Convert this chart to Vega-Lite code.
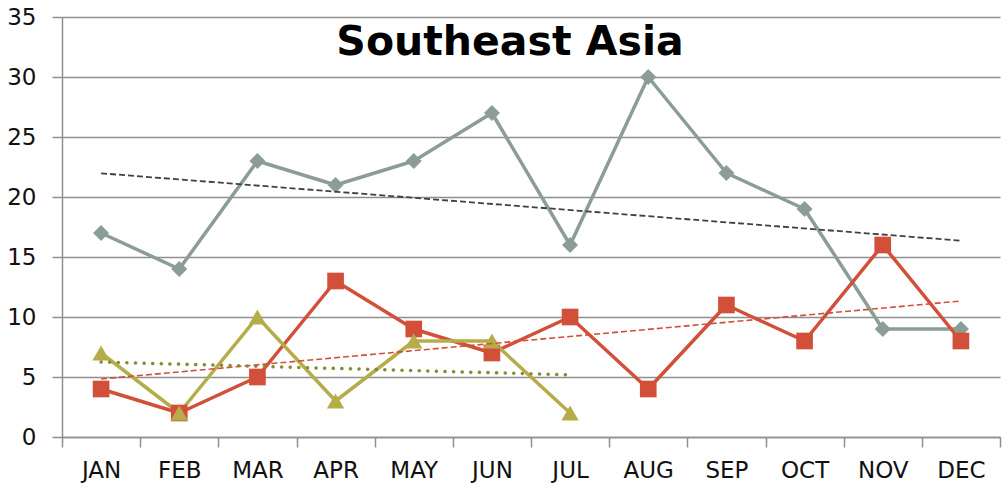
{
  "$schema": "https://vega.github.io/schema/vega-lite/v6.json",
  "autosize": "none",
  "width": 938,
  "height": 420,
  "padding": {"left": 62, "top": 17, "right": 2, "bottom": 52},
  "background": "white",
  "config": {"view": {"stroke": null}, "font": "DejaVu Sans"},
  "title": {"text": "Southeast Asia", "fontSize": 41, "fontWeight": "bold", "font": "DejaVu Sans", "color": "black", "anchor": "middle", "offset": 0, "dy": 58, "dx": -21},
  "datasets": {
    "pts": [
      {"month": "JAN", "m": 1, "series": "A", "value": 17},
      {"month": "FEB", "m": 2, "series": "A", "value": 14},
      {"month": "MAR", "m": 3, "series": "A", "value": 23},
      {"month": "APR", "m": 4, "series": "A", "value": 21},
      {"month": "MAY", "m": 5, "series": "A", "value": 23},
      {"month": "JUN", "m": 6, "series": "A", "value": 27},
      {"month": "JUL", "m": 7, "series": "A", "value": 16},
      {"month": "AUG", "m": 8, "series": "A", "value": 30},
      {"month": "SEP", "m": 9, "series": "A", "value": 22},
      {"month": "OCT", "m": 10, "series": "A", "value": 19},
      {"month": "NOV", "m": 11, "series": "A", "value": 9},
      {"month": "DEC", "m": 12, "series": "A", "value": 9},
      {"month": "JAN", "m": 1, "series": "B", "value": 4},
      {"month": "FEB", "m": 2, "series": "B", "value": 2},
      {"month": "MAR", "m": 3, "series": "B", "value": 5},
      {"month": "APR", "m": 4, "series": "B", "value": 13},
      {"month": "MAY", "m": 5, "series": "B", "value": 9},
      {"month": "JUN", "m": 6, "series": "B", "value": 7},
      {"month": "JUL", "m": 7, "series": "B", "value": 10},
      {"month": "AUG", "m": 8, "series": "B", "value": 4},
      {"month": "SEP", "m": 9, "series": "B", "value": 11},
      {"month": "OCT", "m": 10, "series": "B", "value": 8},
      {"month": "NOV", "m": 11, "series": "B", "value": 16},
      {"month": "DEC", "m": 12, "series": "B", "value": 8},
      {"month": "JAN", "m": 1, "series": "C", "value": 7},
      {"month": "FEB", "m": 2, "series": "C", "value": 2},
      {"month": "MAR", "m": 3, "series": "C", "value": 10},
      {"month": "APR", "m": 4, "series": "C", "value": 3},
      {"month": "MAY", "m": 5, "series": "C", "value": 8},
      {"month": "JUN", "m": 6, "series": "C", "value": 8},
      {"month": "JUL", "m": 7, "series": "C", "value": 2}
    ],
    "months": [
      {"m": 1, "month": "JAN"}, {"m": 2, "month": "FEB"}, {"m": 3, "month": "MAR"},
      {"m": 4, "month": "APR"}, {"m": 5, "month": "MAY"}, {"m": 6, "month": "JUN"},
      {"m": 7, "month": "JUL"}, {"m": 8, "month": "AUG"}, {"m": 9, "month": "SEP"},
      {"m": 10, "month": "OCT"}, {"m": 11, "month": "NOV"}, {"m": 12, "month": "DEC"}
    ]
  },
  "encoding": {
    "x": {
      "field": "month", "type": "nominal",
      "scale": {"type": "band", "domain": ["JAN","FEB","MAR","APR","MAY","JUN","JUL","AUG","SEP","OCT","NOV","DEC"], "paddingInner": 0, "paddingOuter": 0},
      "axis": {"title": null, "labelAngle": 0, "tickBand": "extent", "tickSize": 10, "tickColor": "#8f8f8f", "tickWidth": 1.5, "domainColor": "#8f8f8f", "domainWidth": 1.5, "labelFontSize": 23, "labelColor": "#111111", "labelPadding": 12, "grid": false}
    },
    "y": {
      "field": "value", "type": "quantitative",
      "scale": {"domain": [0, 35], "nice": false},
      "axis": {"title": null, "values": [0,5,10,15,20,25,30,35], "grid": true, "gridColor": "#8f8f8f", "gridWidth": 1.5, "tickSize": 10, "tickColor": "#8f8f8f", "tickWidth": 1.5, "domainColor": "#8f8f8f", "domainWidth": 1.5, "labelFontSize": 23, "labelColor": "#111111", "labelPadding": 16}
    }
  },
  "layer": [
    {
      "data": {"name": "pts"},
      "mark": {"type": "line", "strokeWidth": 3.5, "strokeJoin": "round"},
      "encoding": {
        "color": {"field": "series", "type": "nominal", "scale": {"domain": ["A","B","C"], "range": ["#8b9d95", "#d24f39", "#b5ad4a"]}, "legend": null}
      }
    },
    {
      "data": {"name": "pts"},
      "mark": {"type": "point", "filled": true, "opacity": 1},
      "encoding": {
        "color": {"field": "series", "type": "nominal", "legend": null},
        "shape": {"field": "series", "type": "nominal", "scale": {"domain": ["A","B","C"], "range": ["diamond", "square", "triangle-up"]}, "legend": null},
        "size": {"field": "series", "type": "nominal", "scale": {"domain": ["A","B","C"], "range": [256, 300, 361]}, "legend": null}
      }
    },
    {
      "data": {"name": "pts"},
      "transform": [
        {"filter": "datum.series === 'A'"},
        {"regression": "value", "on": "m", "method": "linear"},
        {"lookup": "m", "from": {"data": {"name": "months"}, "key": "m", "fields": ["month"]}}
      ],
      "mark": {"type": "line", "color": "#404040", "strokeWidth": 1.8, "strokeDash": [6, 3]},
      "encoding": {}
    },
    {
      "data": {"name": "pts"},
      "transform": [
        {"filter": "datum.series === 'B'"},
        {"regression": "value", "on": "m", "method": "linear"},
        {"lookup": "m", "from": {"data": {"name": "months"}, "key": "m", "fields": ["month"]}}
      ],
      "mark": {"type": "line", "color": "#d24f39", "strokeWidth": 1.6, "strokeDash": [6, 3]},
      "encoding": {}
    },
    {
      "data": {"name": "pts"},
      "transform": [
        {"filter": "datum.series === 'C'"},
        {"regression": "value", "on": "m", "method": "linear"},
        {"lookup": "m", "from": {"data": {"name": "months"}, "key": "m", "fields": ["month"]}}
      ],
      "mark": {"type": "line", "color": "#8a8838", "strokeWidth": 3.5, "strokeDash": [0.1, 8.5], "strokeCap": "round"},
      "encoding": {}
    }
  ]
}
